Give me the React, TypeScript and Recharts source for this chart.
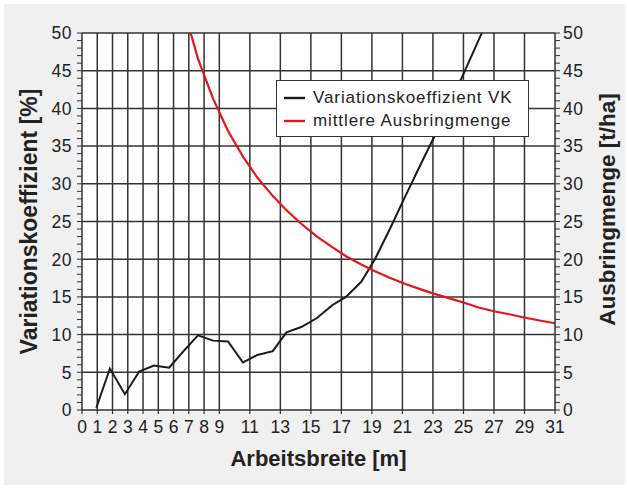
import { CartesianGrid, Label, Line, LineChart, ReferenceLine, XAxis, YAxis } from 'recharts'

// Arbeitsbreite [m]
const widths = [0.94, 1.83, 2.81, 3.75, 4.71, 5.71, 6.7, 7.6, 8.59, 9.57, 10.55, 11.5, 12.5, 13.4, 14.37, 15.4, 16.4, 17.3, 18.3, 19.2, 20.2, 21.2, 22.2, 23.1, 24.1, 25.1, 26.0, 27.0, 28.0, 28.9, 29.9, 31.0]
// Variationskoeffizient VK [%]
const vk = [0.3, 5.5, 2.1, 5.1, 5.9, 5.6, 7.9, 9.9, 9.2, 9.1, 6.3, 7.3, 7.8, 10.3, 11.0, 12.2, 13.9, 15.0, 17.0, 20.0, 24.1, 28.4, 32.6, 36.3, 40.6, 45.0, 49.1, 53.5, null, null, null, null]
// mittlere Ausbringmenge [t/ha]
const menge = [null, null, null, null, null, null, 53.0, 46.6, 41.3, 37.0, 33.6, 30.8, 28.4, 26.5, 24.7, 23.0, 21.6, 20.4, 19.3, 18.4, 17.5, 16.7, 16.0, 15.4, 14.8, 14.2, 13.6, 13.1, 12.7, 12.3, 11.9, 11.5]

const xTicks = [0, 1, 2, 3, 4, 5, 6, 7, 8, 9, 11, 13, 15, 17, 19, 21, 23, 25, 27, 29, 31]
const xGrid = [1, 2, 3, 4, 5, 6, 7, 8, 9, 11, 13, 15, 17, 19, 21, 23, 25, 27, 29]
const yLabels = [0, 5, 10, 15, 20, 25, 30, 35, 40, 45, 50]
const yGrid = [5, 10, 15, 20, 25, 30, 35, 40, 45, 50]
const yMinor = Array.from({ length: 51 }, (_, i) => i)

const data = widths.map((x, i) => ({ x, vk: vk[i], menge: menge[i] }))

const FONT = '"Liberation Sans", Arial, Helvetica, sans-serif'
const INK = '#222'
const GRID = '#333'

function YTick(props: any) {
  const { x, y, payload, textAnchor } = props
  if (!yLabels.includes(payload.value)) return null
  return (
    <text x={x} y={y} dy="0.36em" textAnchor={textAnchor} fill={INK} fontSize={17.5} letterSpacing={0.5}>
      {payload.value}
    </text>
  )
}

function VTitle(props: any) {
  const { viewBox, value, bx, shift, size } = props
  const x = viewBox.x + bx
  const y = viewBox.y + viewBox.height / 2 + (shift || 0)
  return (
    <text x={x} y={y} transform={`rotate(-90 ${x} ${y})`} textAnchor="middle" fill={INK} fontSize={size} fontWeight="bold">
      {value}
    </text>
  )
}

function XTitle(props: any) {
  const { viewBox, value } = props
  const x = viewBox.x + viewBox.width / 2
  const y = viewBox.y + 56
  return (
    <text x={x} y={y} textAnchor="middle" fill={INK} fontSize={22} fontWeight="bold">
      {value}
    </text>
  )
}

function LegendBox() {
  const row = (color: string, text: string) => (
    <div style={{ display: 'flex', alignItems: 'center', height: 23 }}>
      <svg width={29} height={4} style={{ marginLeft: 7 }}>
        <line x1={0} y1={2} x2={21} y2={2} stroke={color} strokeWidth={2.4} />
      </svg>
      <span style={{ fontSize: 17, letterSpacing: 0.9, color: INK }}>{text}</span>
    </div>
  )
  return (
    <div
      style={{
        position: 'absolute',
        left: 276,
        top: 80,
        width: 253,
        height: 57,
        boxSizing: 'border-box',
        border: '1.5px solid #333',
        background: '#fff',
        paddingTop: 5,
      }}
    >
      {row('#1a1a1a', 'Variationskoeffizient VK')}
      {row('#e3161e', 'mittlere Ausbringmenge')}
    </div>
  )
}

export default function App() {
  return (
    <div style={{ position: 'absolute', left: 0, top: 0, width: 627, height: 488, background: '#fff', fontFamily: FONT }}>
      <div style={{ position: 'absolute', left: 4, top: 4, width: 621, height: 481, background: '#f0f0f0' }} />
      <div style={{ position: 'absolute', left: 0, top: 0 }}>
        <LineChart width={627} height={488} data={data} margin={{ top: 33, right: 0, bottom: 0, left: 0 }}>
          <CartesianGrid horizontal={false} vertical={false} fill="#fff" yAxisId="l" />
          <XAxis
            dataKey="x"
            type="number"
            domain={[0, 31]}
            ticks={xTicks}
            interval={0}
            allowDataOverflow
            height={78}
            tickSize={4}
            tickMargin={7}
            axisLine={{ stroke: GRID, strokeWidth: 1.5 }}
            tickLine={{ stroke: GRID, strokeWidth: 1.2 }}
            tick={{ fill: INK, fontSize: 17.5 }}
          >
            <Label content={<XTitle value="Arbeitsbreite [m]" />} />
          </XAxis>
          <YAxis
            yAxisId="l"
            type="number"
            domain={[0, 50]}
            ticks={yMinor}
            interval={0}
            allowDataOverflow
            width={82}
            tickSize={5}
            tickMargin={5}
            axisLine={{ stroke: GRID, strokeWidth: 1.5 }}
            tickLine={{ stroke: GRID, strokeWidth: 1 }}
            tick={<YTick />}
          >
            <Label content={<VTitle value="Variationskoeffizient [%]" bx={37} size={23} />} />
          </YAxis>
          <YAxis
            yAxisId="r"
            orientation="right"
            type="number"
            domain={[0, 50]}
            ticks={yMinor}
            interval={0}
            allowDataOverflow
            width={72}
            tickSize={5}
            tickMargin={3}
            axisLine={{ stroke: GRID, strokeWidth: 1.5 }}
            tickLine={{ stroke: GRID, strokeWidth: 1 }}
            tick={<YTick />}
          >
            <Label content={<VTitle value="Ausbringmenge [t/ha]" bx={60} shift={-12} size={22.5} />} />
          </YAxis>
          {xGrid.map((v) => (
            <ReferenceLine key={'vx' + v} x={v} yAxisId="l" stroke={GRID} strokeWidth={1.5} />
          ))}
          {yGrid.map((v) => (
            <ReferenceLine key={'hy' + v} y={v} yAxisId="l" stroke={GRID} strokeWidth={1.5} />
          ))}
          <Line
            yAxisId="l"
            dataKey="vk"
            type="linear"
            stroke="#1a1a1a"
            strokeWidth={2}
            dot={false}
            activeDot={false}
            isAnimationActive={false}
          />
          <Line
            yAxisId="r"
            dataKey="menge"
            type="linear"
            stroke="#e3161e"
            strokeWidth={2.2}
            dot={false}
            activeDot={false}
            isAnimationActive={false}
          />
        </LineChart>
      </div>
      <LegendBox />
    </div>
  )
}
